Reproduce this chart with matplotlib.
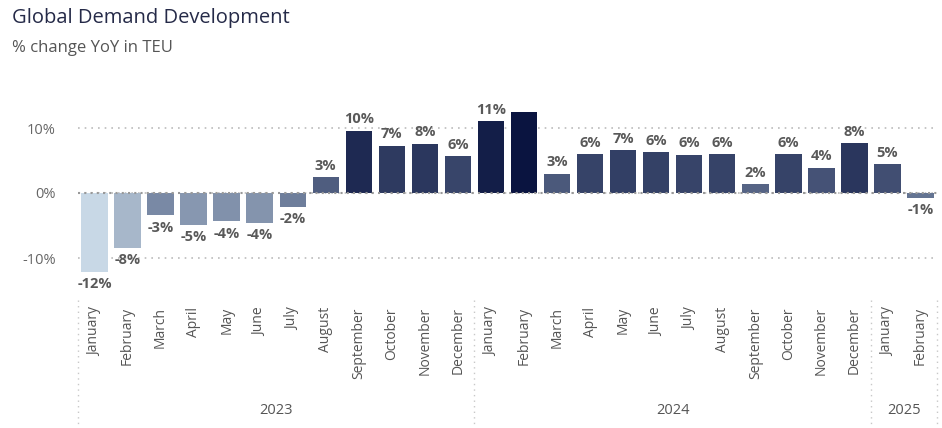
import matplotlib.pyplot as plt
from matplotlib.colors import LinearSegmentedColormap, Normalize

# datos
months = ['January', 'February', 'March', 'April', 'May', 'June', 'July', 'August',
          'September', 'October', 'November', 'December',
          'January', 'February', 'March', 'April', 'May', 'June', 'July', 'August',
          'September', 'October', 'November', 'December',
          'January', 'February']
years = ['2023', '2024', '2025']
months_per_year = [12, 12, 2]
values = [-12.1, -8.4, -3.4, -4.9, -4.3, -4.6, -2.1, 2.5, 9.6, 7.3, 7.6, 5.7,
          11.1, 12.5, 3.0, 6.0, 6.6, 6.3, 5.9, 6.0, 1.4, 6.0, 3.9, 7.7,
          4.5, -0.7]
labels = ['-12%', '-8%', '-3%', '-5%', '-4%', '-4%', '-2%', '3%', '10%', '7%', '8%', '6%',
          '11%', '', '3%', '6%', '7%', '6%', '6%', '6%', '2%', '6%', '4%', '8%',
          '5%', '-1%']

plt.rcParams['font.family'] = ['Open Sans', 'DejaVu Sans']

cmap = LinearSegmentedColormap.from_list('azul', [(0, '#c8d8e6'), (0.4, '#6f7f9c'), (1, '#0a1440')])
norm = Normalize(vmin=min(values), vmax=max(values))

fig = plt.figure(figsize=(9.42, 4.28), dpi=100)
ax = fig.add_axes([78 / 942, 1 - 290.5 / 428, 859 / 942, 188.5 / 428])

x = list(range(len(values)))
ax.bar(x, values, width=0.8, color=[cmap(norm(v)) for v in values], zorder=3)

# etiquetas de valor
for xi, v, lab in zip(x, values, labels):
    if lab == '':
        continue
    if v >= 0:
        ax.annotate(lab, (xi, v), xytext=(0, 3), textcoords='offset points',
                    ha='center', va='bottom', fontsize=10.5, fontweight='bold', color='#595959')
    else:
        ax.annotate(lab, (xi, v), xytext=(0, -4), textcoords='offset points',
                    ha='center', va='top', fontsize=10.5, fontweight='bold', color='#595959')

ax.set_xlim(-0.5, len(values) - 0.5)
ax.set_ylim(-15, 14)
ax.set_yticks([-10, 0, 10])
ax.set_yticklabels(['-10%', '0%', '10%'], fontsize=10.5, color='#666666')
ax.yaxis.grid(True, linestyle=(0, (1, 3)), color='#bbbbbb', linewidth=1.2, zorder=0)
ax.axhline(0, linestyle=(0, (1, 2)), color='#999999', linewidth=1.5, zorder=4)
ax.set_xticks(x)
ax.set_xticklabels(months, rotation=90, fontsize=10, color='#555555', va='top')
ax.tick_params(axis='x', length=0, pad=12)
ax.tick_params(axis='y', length=0, pad=16)
for s in ax.spines.values():
    s.set_visible(False)

# separadores de años y etiquetas
trans = ax.get_xaxis_transform()
start = 0
bounds = [-0.5]
for yr, n in zip(years, months_per_year):
    ax.text(start + (n - 1) / 2, -0.634, yr, transform=trans, ha='center', va='center',
            fontsize=10.5, color='#555555')
    start += n
    bounds.append(start - 0.5)
for b in bounds:
    ax.plot([b, b], [-0.05, -0.73], transform=trans, clip_on=False,
            linestyle=(0, (1, 3)), color='#c8c8c8', linewidth=1)

fig.text(12 / 942, 1 - 18 / 428, 'Global Demand Development', fontsize=14.5,
         color='#252a48', va='center', ha='left')
fig.text(12 / 942, 1 - 48 / 428, '% change YoY in TEU', fontsize=12,
         color='#555555', va='center', ha='left')

plt.savefig('out.png', dpi=100)
